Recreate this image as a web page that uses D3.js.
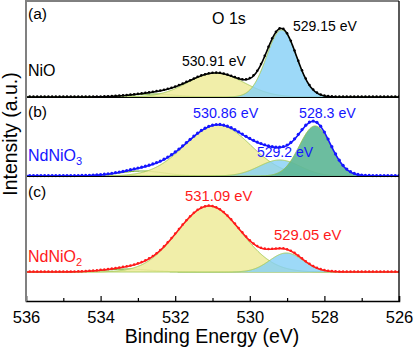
<!DOCTYPE html>
<html>
<head>
<meta charset="utf-8">
<script src="https://cdn.jsdelivr.net/npm/d3@7/dist/d3.min.js"></script>
<style>
  html, body { margin: 0; padding: 0; background: #fff; }
  svg { display: block; font-family: "Liberation Sans", Arial, sans-serif; }
</style>
</head>
<body>
<svg id="chart" width="415" height="348"></svg>
<script>
// ---------------- DATA ----------------
const xTicks = [536, 534, 532, 530, 528, 526];
const xMinorTicks = [535, 533, 531, 529, 527];
const panelTags = ["(a)", "(b)", "(c)"];
const sampleNames = ["NiO", "NdNiO", "NdNiO"];
const sampleSubs = ["", "3", "2"];
const panelBaselines = [20.4, 12.5, 2.9];           // vertical offset of each spectrum (a.u.)

// fitted components: [center eV, height a.u., sigma eV]
const peaksNiO    = [[532.6, 0.3, 0.6], [530.91, 2.4, 0.75], [529.15, 6.7, 0.40]];
const peaksNdNiO3 = [[532.9, 0.5, 0.6], [530.86, 5.1, 0.88], [529.2, 1.6, 0.55], [528.25, 5.0, 0.42]];
const peaksNdNiO2 = [[533.3, 0.3, 0.6], [531.09, 6.6, 0.86], [529.02, 1.9, 0.45]];
const componentKinds = [
  ["minor", "main", "lattice"],
  ["minor", "main", "lattice", "lowBE"],
  ["minor", "main", "lattice"]
];
const peakLabelsNiO = ["530.91 eV", "529.15 eV"];
const peakLabelsNdNiO3 = ["530.86 eV", "529.2 eV", "528.3 eV"];
const peakLabelsNdNiO2 = ["531.09 eV", "529.05 eV"];

// --------------- DRAWING ---------------
const svg = d3.select("#chart");
const L = 26, R = 399, T = 1, B = 301;
const x = d3.scaleLinear().domain([536, 526]).range([L, R]);
const y = d3.scaleLinear().domain([0, 30]).range([B, T]);

const allPeaks = [peaksNiO, peaksNdNiO3, peaksNdNiO2];
const dataColors = ["#000000", "#1515ff", "#ff1a1a"];
const fillColors = { minor: "none", main: "#f0eca0", lattice: "#84d0f6", lowBE: "#5fb797" };
const fillOpac = { minor: 0, main: 0.9, lattice: 0.8, lowBE: 0.92 };
const strokeColors = { minor: "#79ad3c", main: "#a6cc5a", lattice: "#a6cc5a", lowBE: "#8fbf4e" };

const gauss = (e, p) => p[1] * Math.exp(-((e - p[0]) ** 2) / (2 * p[2] * p[2]));
const fine = d3.range(0, 1001).map(i => 536 - i * 0.01);
const pts = d3.range(0, 101).map(i => 536 - i * 0.1);

const defs = svg.append("defs");
defs.append("clipPath").attr("id", "clip").append("rect")
  .attr("x", L).attr("y", T).attr("width", R - L).attr("height", B - T);
const plot = svg.append("g").attr("clip-path", "url(#clip)");

allPeaks.forEach((peaks, pi) => {
  const base = panelBaselines[pi];
  const g = plot.append("g");
  peaks.forEach((p, ci) => {
    const kind = componentKinds[pi][ci];
    const area = d3.area().x(e => x(e)).y0(y(base)).y1(e => y(base + gauss(e, p)));
    const line = d3.line().x(e => x(e)).y(e => y(base + gauss(e, p)));
    if (kind !== "minor") {
      g.append("path").attr("d", area(fine))
        .attr("fill", fillColors[kind]).attr("fill-opacity", fillOpac[kind]);
    }
    g.append("path").attr("d", line(fine)).attr("fill", "none")
      .attr("stroke", strokeColors[kind]).attr("stroke-width", kind === "minor" ? 1.2 : 1);
  });
  const env = e => base + d3.sum(peaks, p => gauss(e, p));
  g.append("path").attr("d", d3.line().x(e => x(e)).y(e => y(env(e)))(fine))
    .attr("fill", "none").attr("stroke", dataColors[pi]).attr("stroke-width", 1.6);
  g.selectAll("circle.pt").data(pts).enter().append("circle")
    .attr("cx", e => x(e)).attr("cy", e => y(env(e)) - 0.4)
    .attr("r", pi === 1 ? 1.6 : 1.25).attr("fill", dataColors[pi]);
});

// frame
svg.append("line").attr("x1", L).attr("x2", R).attr("y1", T).attr("y2", T).attr("stroke", "#000").attr("stroke-width", 1);
svg.append("line").attr("x1", R).attr("x2", R).attr("y1", T).attr("y2", B).attr("stroke", "#000").attr("stroke-width", 1.3);
[0, 1].forEach(i => {
  svg.append("line").attr("x1", L).attr("x2", R)
    .attr("y1", Math.round(y(panelBaselines[i])) + 0.5).attr("y2", Math.round(y(panelBaselines[i])) + 0.5)
    .attr("stroke", "#000").attr("stroke-width", 1);
});

// x axis
const xAxis = d3.axisBottom(x).tickValues(xTicks).tickSize(-5).tickPadding(10).tickFormat(d3.format("d"));
const ax = svg.append("g").attr("transform", `translate(0,${B})`).call(xAxis);
ax.select(".domain").attr("stroke", "#000").attr("stroke-width", 1.5);
ax.selectAll(".tick line").attr("stroke", "#000").attr("stroke-width", 1.2);
ax.selectAll(".tick text").attr("font-size", 16.5).attr("fill", "#000")
  .attr("font-family", "Liberation Sans, Arial, sans-serif").attr("dy", "0.71em");
const axMinor = d3.axisBottom(x).tickValues(xMinorTicks).tickSize(-3).tickFormat("");
const am = svg.append("g").attr("transform", `translate(0,${B})`).call(axMinor);
am.select(".domain").remove();
am.selectAll(".tick line").attr("stroke", "#000").attr("stroke-width", 1.2);

// y axis (gray line)
svg.append("line").attr("x1", L).attr("x2", L).attr("y1", 0).attr("y2", B + 0.5)
  .attr("stroke", "#808080").attr("stroke-width", 2);

// axis titles
svg.append("text").attr("x", 212).attr("y", 343).attr("text-anchor", "middle")
  .attr("font-size", 19.5).text("Binding Energy (eV)");
svg.append("text").attr("transform", "translate(17,134) rotate(-90)").attr("text-anchor", "middle")
  .attr("font-size", 19.5).text("Intensity (a.u.)");

// panel tags and sample names
const tagY = [19, 117, 197];
const nameY = [76, 161, 262];
panelTags.forEach((t, i) => {
  svg.append("text").attr("x", 28).attr("y", tagY[i]).attr("font-size", 15.5).text(t);
  const nt = svg.append("text").attr("x", 28).attr("y", nameY[i]).attr("font-size", 16)
    .attr("fill", dataColors[i]).text(sampleNames[i]);
  if (sampleSubs[i]) nt.append("tspan").attr("dy", 4).attr("font-size", 11).text(sampleSubs[i]);
});
svg.append("text").attr("x", 212).attr("y", 24).attr("font-size", 16).text("O 1s");

// peak labels
const lab = (txt, px, py, col, fs) => svg.append("text").attr("x", px).attr("y", py)
  .attr("font-size", fs).attr("fill", col).text(txt);
lab(peakLabelsNiO[0], 182, 66, "#000", 14);
lab(peakLabelsNiO[1], 293, 31, "#000", 14);
lab(peakLabelsNdNiO3[0], 193, 118, "#1515ff", 14.3);
lab(peakLabelsNdNiO3[1], 257, 157, "#1515ff", 14);
lab(peakLabelsNdNiO3[2], 299, 118, "#1515ff", 14.2);
lab(peakLabelsNdNiO2[0], 185, 201, "#ff1a1a", 14.8);
lab(peakLabelsNdNiO2[1], 274, 240, "#ff1a1a", 14.8);
</script>
</body>
</html>
